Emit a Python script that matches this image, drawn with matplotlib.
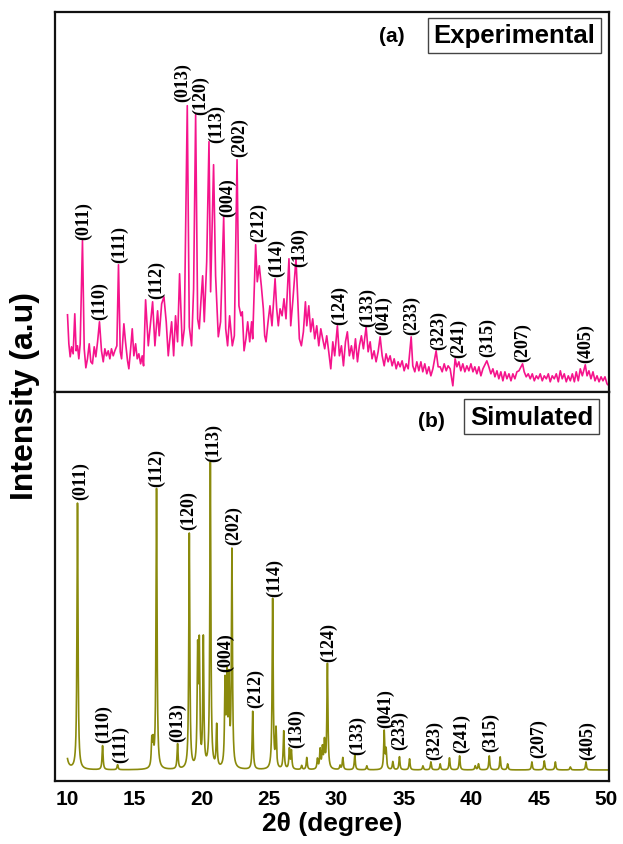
import numpy as np
import matplotlib
matplotlib.use("Agg")
import matplotlib.pyplot as plt

# experimental pattern (2theta, intensity a.u.)
exp_2theta = [
    10.05, 10.15, 10.25, 10.35, 10.47, 10.59, 10.69, 10.79, 10.89, 10.99, 11.16, 11.29,
    11.41, 11.53, 11.66, 11.78, 11.90, 12.03, 12.15, 12.28, 12.42, 12.57, 12.70, 12.82,
    12.94, 13.07, 13.19, 13.31, 13.44, 13.56, 13.71, 13.83, 13.96, 14.06, 14.23, 14.35,
    14.50, 14.60, 14.75, 14.85, 14.97, 15.10, 15.22, 15.34, 15.47, 15.59, 15.69, 15.84,
    16.04, 16.36, 16.53, 16.73, 16.85, 17.03, 17.20, 17.37, 17.52, 17.64, 17.77, 17.92,
    18.06, 18.21, 18.36, 18.56, 18.71, 18.93, 19.08, 19.25, 19.40, 19.55, 19.70, 19.82,
    19.94, 20.07, 20.19, 20.37, 20.54, 20.66, 20.88, 21.03, 21.23, 21.40, 21.63, 21.78,
    21.92, 22.07, 22.27, 22.42, 22.62, 22.76, 22.91, 23.01, 23.14, 23.28, 23.41, 23.56,
    23.70, 23.78, 24.00, 24.12, 24.27, 24.42, 24.57, 24.67, 24.77, 24.92, 25.06, 25.21,
    25.44, 25.56, 25.68, 25.81, 25.96, 26.10, 26.25, 26.47, 26.60, 26.75, 26.99, 27.12,
    27.24, 27.39, 27.54, 27.69, 27.79, 27.94, 28.08, 28.23, 28.38, 28.53, 28.68, 28.83,
    28.97, 29.12, 29.27, 29.42, 29.57, 29.72, 29.86, 30.06, 30.21, 30.36, 30.51, 30.66,
    30.80, 30.95, 31.10, 31.25, 31.40, 31.55, 31.69, 31.84, 31.99, 32.19, 32.34, 32.49,
    32.63, 32.78, 32.93, 33.08, 33.23, 33.38, 33.53, 33.67, 33.82, 33.97, 34.12, 34.27,
    34.42, 34.56, 34.71, 34.86, 35.01, 35.16, 35.31, 35.53, 35.65, 35.80, 35.95, 36.10,
    36.25, 36.39, 36.54, 36.69, 36.84, 36.99, 37.14, 37.38, 37.53, 37.68, 37.83, 37.98,
    38.13, 38.27, 38.42, 38.62, 38.79, 38.92, 39.07, 39.21, 39.36, 39.51, 39.66, 39.81,
    39.96, 40.11, 40.25, 40.40, 40.55, 40.70, 40.85, 41.14, 41.29, 41.44, 41.59, 41.74,
    41.89, 42.03, 42.18, 42.33, 42.48, 42.63, 42.78, 42.93, 43.07, 43.22, 43.37, 43.52,
    43.79, 43.91, 44.06, 44.21, 44.36, 44.51, 44.66, 44.81, 44.95, 45.10, 45.25, 45.40,
    45.55, 45.70, 45.84, 45.99, 46.14, 46.29, 46.44, 46.59, 46.73, 46.88, 47.03, 47.18,
    47.33, 47.48, 47.63, 47.77, 47.92, 48.07, 48.22, 48.44, 48.57, 48.71, 48.86, 49.01,
    49.16, 49.31, 49.46, 49.61, 49.75, 49.90, 50.05, 50.20,
]
exp_int = [
    77, 48, 35, 45, 38, 78, 41, 46, 33, 48, 151, 43,
    24, 33, 48, 30, 28, 45, 35, 50, 70, 41, 30, 43,
    36, 41, 33, 43, 36, 41, 46, 127, 40, 33, 68, 50,
    31, 23, 46, 63, 36, 48, 33, 38, 28, 36, 26, 92,
    46, 90, 46, 81, 56, 88, 95, 70, 36, 53, 70, 36,
    76, 50, 118, 46, 63, 286, 65, 46, 103, 277, 73, 63,
    90, 116, 70, 130, 250, 100, 227, 116, 55, 70, 175, 63,
    46, 76, 46, 56, 232, 86, 76, 80, 41, 53, 70, 50,
    70, 53, 147, 110, 126, 106, 83, 56, 50, 70, 86, 66,
    113, 83, 66, 83, 76, 93, 73, 133, 66, 90, 133, 93,
    53, 46, 60, 90, 66, 86, 60, 73, 53, 66, 46, 63,
    53, 43, 56, 40, 23, 50, 36, 66, 36, 46, 26, 50,
    60, 36, 46, 33, 53, 30, 46, 56, 43, 65, 40, 50,
    33, 41, 30, 40, 55, 36, 26, 38, 30, 36, 26, 33,
    23, 30, 25, 31, 21, 28, 23, 55, 26, 20, 30, 21,
    30, 20, 28, 18, 25, 16, 23, 41, 25, 25, 20, 28,
    21, 26, 23, 6, 33, 25, 30, 21, 28, 20, 26, 21,
    28, 20, 25, 18, 25, 16, 23, 31, 25, 18, 23, 15,
    21, 13, 20, 11, 20, 13, 18, 11, 18, 13, 20, 21,
    28, 20, 15, 18, 13, 18, 11, 16, 13, 18, 11, 16,
    13, 18, 10, 16, 13, 18, 10, 21, 13, 18, 10, 16,
    11, 18, 10, 20, 11, 23, 16, 27, 16, 21, 13, 20,
    11, 16, 10, 15, 11, 15, 8, 6,
]

# simulated pattern: reflection positions and peak heights
sim_pos = [
    9.80, 10.79, 12.65, 13.76, 16.30, 16.40, 16.65, 18.21, 19.08, 19.70, 19.82, 20.12,
    20.64, 21.11, 21.73, 21.87, 22.02, 22.24, 23.78, 25.26, 25.51, 26.08, 26.50, 26.65,
    27.41, 27.79, 28.58, 28.78, 28.95, 29.10, 29.32, 30.26, 30.46, 31.35, 32.24, 33.53,
    33.67, 34.17, 34.66, 35.41, 36.40, 36.99, 37.68, 38.37, 39.12, 40.28, 40.52, 41.32,
    42.13, 42.68, 44.48, 45.40, 46.22, 47.33, 48.49,
]
sim_height = [
    330, 266, 24, 5, 26, 22, 280, 25, 235, 112, 116, 128,
    305, 42, 82, 84, 82, 216, 58, 170, 38, 38, 20, 18,
    4, 12, 10, 19, 20, 26, 105, 4, 12, 15, 4, 38,
    19, 8, 13, 11, 4, 8, 6, 12, 14, 4, 6, 14,
    13, 6, 8, 9, 8, 3, 8,
]
sim_base = 11

# Miller indices and where each label sits (2theta, intensity)
exp_hkl = ["(011)", "(110)", "(111)", "(112)", "(013)", "(120)", "(113)", "(004)", "(202)",
           "(212)", "(114)", "(130)", "(124)", "(133)", "(041)", "(233)", "(323)", "(241)",
           "(315)", "(207)", "(405)"]
exp_lab_x = [11.28, 12.45, 13.93, 16.66, 18.61, 19.94, 21.13, 21.95, 22.84, 24.25, 25.58,
             27.29, 30.26, 32.30, 33.45, 35.53, 37.53, 39.02, 41.17, 43.77, 48.44]
exp_lab_y = [153, 73, 130, 94, 291, 278, 250, 176, 236, 151, 116, 126, 68, 66, 58, 58,
             43, 35, 36, 31, 30]

sim_hkl = ["(011)", "(110)", "(111)", "(112)", "(013)", "(120)", "(113)", "(004)", "(202)",
           "(212)", "(114)", "(130)", "(124)", "(133)", "(041)", "(233)", "(323)", "(241)",
           "(315)", "(207)", "(405)"]
sim_lab_x = [11.04, 12.69, 13.99, 16.66, 18.20, 19.05, 20.91, 21.78, 22.39, 24.01, 25.44,
             27.05, 29.44, 31.56, 33.60, 34.64, 37.24, 39.29, 41.39, 44.95, 48.59]
sim_lab_y = [282, 39, 19, 295, 40, 252, 320, 110, 237, 74, 185, 34, 120, 27, 54, 32, 22,
             29, 30, 24, 22]

pink = "#f5148c"
olive = "#8a8a0c"
lab_font = dict(family="Liberation Serif", weight="bold", size=13)

# lorentzian broadening of the simulated reflections
fwhm = 0.09
tt = np.arange(10.05, 50.2, 0.005)
sim = np.full_like(tt, sim_base, dtype=float)
for p, h in zip(sim_pos, sim_height):
    sim += h / (1 + ((tt - p) / (fwhm / 2)) ** 2)

fig = plt.figure(figsize=(6.23, 8.45), dpi=100)
gs = fig.add_gridspec(2, 1, height_ratios=[380, 389], hspace=0,
                      left=0.088, right=0.978, top=0.985, bottom=0.0746)
ax1 = fig.add_subplot(gs[0])
ax2 = fig.add_subplot(gs[1], sharex=ax1)

ax1.plot(exp_2theta, exp_int, color=pink, lw=1.2)
ax2.plot(tt, sim, color=olive, lw=1.2)

for hkl, x, y in zip(exp_hkl, exp_lab_x, exp_lab_y):
    ax1.text(x, y, hkl, rotation=90, ha="center", va="bottom", **lab_font)
for hkl, x, y in zip(sim_hkl, sim_lab_x, sim_lab_y):
    ax2.text(x, y, hkl, rotation=90, ha="center", va="bottom", **lab_font)

ax1.set_ylim(0, 380)
ax2.set_ylim(0, 389)
ax1.set_xlim(9.11, 50.22)

for ax in (ax1, ax2):
    ax.set_yticks([])
    for sp in ax.spines.values():
        sp.set_linewidth(1.6)
        sp.set_color("#111111")
ax1.tick_params(axis="x", length=0, labelbottom=False)
ax2.set_xticks(np.arange(10, 51, 5))
ax2.tick_params(axis="x", length=0, pad=6)
for t in ax2.get_xticklabels():
    t.set_fontfamily("Liberation Sans")
    t.set_fontweight("bold")
    t.set_fontsize(15)

box = dict(boxstyle="square,pad=0.22", fc="white", ec="#444444", lw=1.0)
ax1.text(0.608, 0.937, "(a)", transform=ax1.transAxes, ha="center", va="center",
         family="Liberation Sans", weight="bold", size=15)
ax1.text(0.829, 0.938, "Experimental", transform=ax1.transAxes, ha="center", va="center",
         family="Liberation Sans", weight="bold", size=18.5, bbox=box)
ax2.text(0.680, 0.926, "(b)", transform=ax2.transAxes, ha="center", va="center",
         family="Liberation Sans", weight="bold", size=15)
ax2.text(0.860, 0.936, "Simulated", transform=ax2.transAxes, ha="center", va="center",
         family="Liberation Sans", weight="bold", size=18.5, bbox=box)

ax2.set_xlabel("2\u03b8 (degree)", family="Liberation Sans", weight="bold", size=19,
               labelpad=2)
fig.text(0.040, 0.531, "Intensity (a.u)", rotation=90, ha="center", va="center",
         family="Liberation Sans", weight="bold", size=23)

fig.savefig("out.png", dpi=100)
